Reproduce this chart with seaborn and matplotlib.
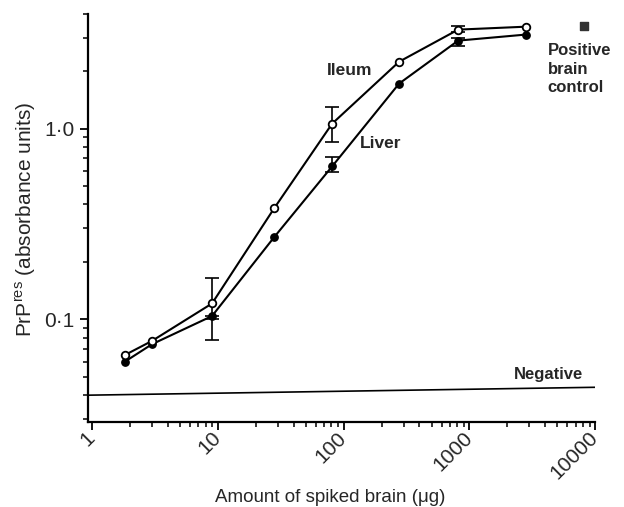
import matplotlib
matplotlib.use("Agg")
import matplotlib.pyplot as plt
import matplotlib.transforms as mtransforms
import seaborn as sns
import pandas as pd
import numpy as np

# Data
amount = [1.83, 3.0, 9.0, 28, 81, 276, 813, 2826]
ileum = [0.065, 0.077, 0.121, 0.381, 1.06, 2.24, 3.30, 3.42]
liver = [0.060, 0.074, 0.104, 0.269, 0.633, 1.72, 2.89, 3.11]

# error bars: (x, low, high)
ileum_err_x = [9.0, 81, 813]
ileum_err_lo = [0.100, 0.845, 3.20]
ileum_err_hi = [0.164, 1.29, 3.46]
liver_err_x = [9.0, 81, 813]
liver_err_lo = [0.078, 0.589, 2.72]
liver_err_hi = [0.104, 0.71, 3.00]

positive_x = [8150]
positive_y = [3.46]

negative_x = [0.93, 10000]
negative_y = [0.040, 0.044]

xticks = [1, 10, 100, 1000, 10000]
xticklabels = ["1", "10", "100", "1000", "10000"]
yticks = [0.1, 1.0]
yticklabels = ["0·1", "1·0"]

sns.set_style("ticks")
plt.rcParams["font.family"] = ["Liberation Sans", "DejaVu Sans"]

fig = plt.figure(figsize=(6.24, 5.07), dpi=100)
ax = fig.add_axes([0.141, 0.168, 0.813, 0.805])

df = pd.DataFrame({"amount": amount * 2,
                   "value": ileum + liver,
                   "tissue": ["Ileum"] * len(amount) + ["Liver"] * len(amount)})

sns.lineplot(data=df, x="amount", y="value", units="tissue", estimator=None,
             color="black", lw=1.5, ax=ax, legend=False)

# error bars
for xs, lo, hi in [(ileum_err_x, ileum_err_lo, ileum_err_hi),
                   (liver_err_x, liver_err_lo, liver_err_hi)]:
    mid = [np.sqrt(a * b) for a, b in zip(lo, hi)]
    yerr = [[m - a for m, a in zip(mid, lo)], [b - m for m, b in zip(mid, hi)]]
    ax.errorbar(xs, mid, yerr=yerr, fmt="none", ecolor="black", elinewidth=1.2,
                capsize=5, capthick=1.2, zorder=2)

sns.scatterplot(x=amount, y=liver, color="black", s=28, edgecolor="black",
                linewidth=1, ax=ax, zorder=4)
ax.scatter(amount, ileum, s=30, facecolors="white", edgecolors="black",
           linewidths=1.3, zorder=5)
ax.scatter(positive_x, positive_y, marker="s", s=30, color="#333333", zorder=5)

ax.plot(negative_x, negative_y, color="black", lw=1.2)

ax.set_xscale("log")
ax.set_yscale("log")
ax.set_xlim(0.93, 10000)
ax.set_ylim(0.029, 4.0)

ax.set_xticks(xticks)
ax.set_xticklabels(xticklabels, rotation=45, fontsize=15, ha="right", va="center",
                   rotation_mode="anchor")
offset = mtransforms.ScaledTranslation(14 / 100, -5 / 100, fig.dpi_scale_trans)
for lab in ax.get_xticklabels():
    lab.set_transform(lab.get_transform() + offset)
ax.set_yticks(yticks)
ax.set_yticklabels(yticklabels, fontsize=15)
ax.tick_params(axis="both", which="major", length=6, width=1.3, color="black")
ax.tick_params(axis="both", which="minor", length=3.5, width=1.1, color="black")
for s in ["left", "bottom"]:
    ax.spines[s].set_linewidth(1.6)
    ax.spines[s].set_color("black")
sns.despine(ax=ax)

ax.set_xlabel("Amount of spiked brain (μg)", fontsize=13.5)
ax.xaxis.set_label_coords(0.478, -0.165)
ax.set_ylabel("PrP$^{\\mathregular{res}}$ (absorbance units)", fontsize=15)
ax.yaxis.set_label_coords(-0.098, 0.495)

ax.text(0.524, 0.852, "Ileum", transform=fig.transFigure, fontsize=12.5, fontweight="bold")
ax.text(0.577, 0.708, "Liver", transform=fig.transFigure, fontsize=12.5, fontweight="bold")
ax.text(0.878, 0.915, "Positive\nbrain\ncontrol", transform=fig.transFigure,
        fontsize=12, fontweight="bold", va="top", linespacing=1.3)
ax.text(0.823, 0.252, "Negative", transform=fig.transFigure, fontsize=12, fontweight="bold")

fig.savefig("out.png", dpi=100)
